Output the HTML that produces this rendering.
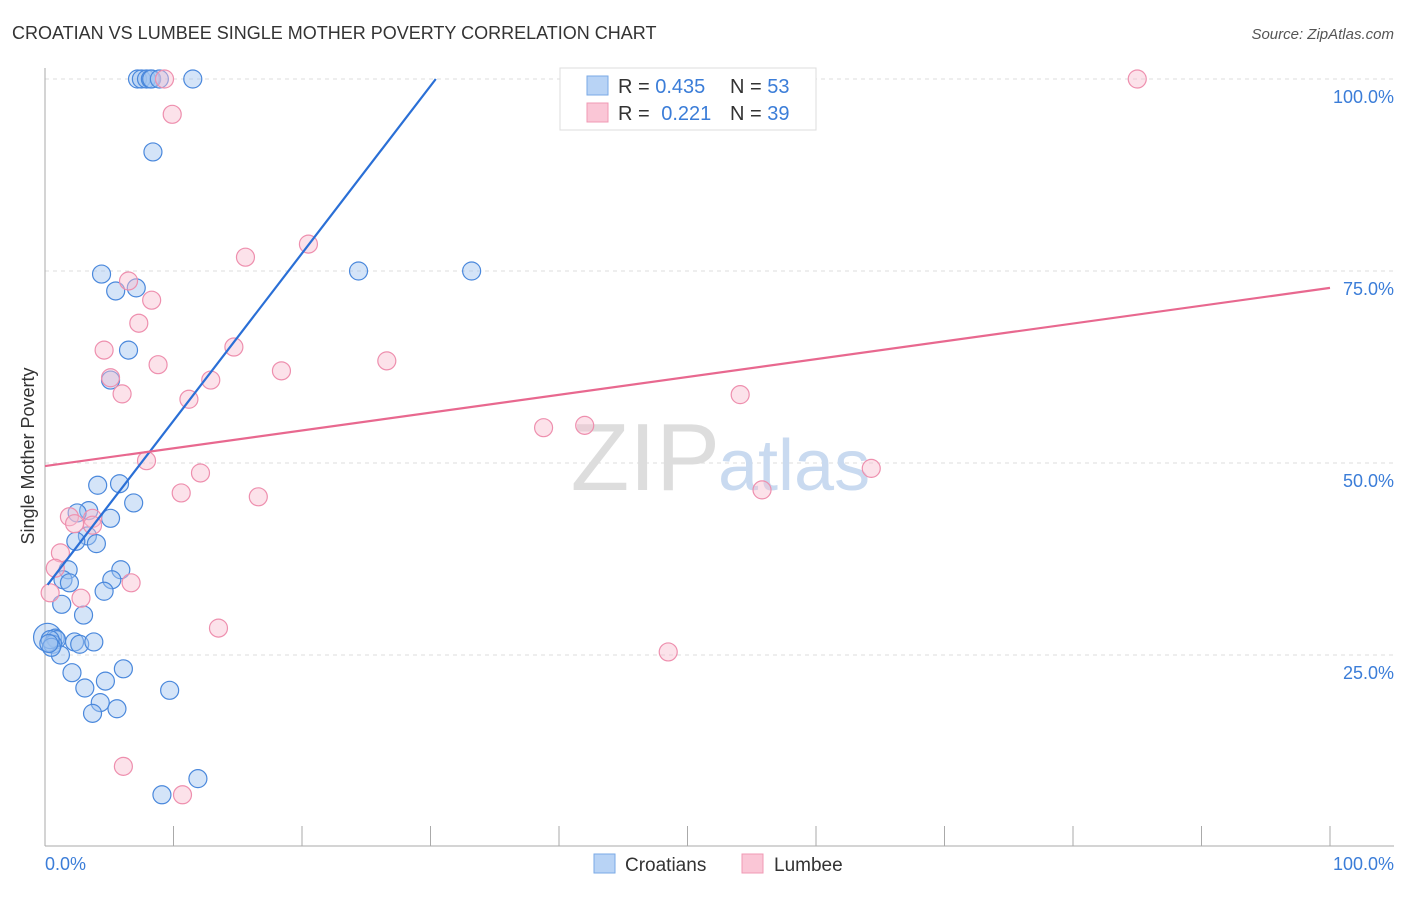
<!DOCTYPE html>
<html><head><meta charset="utf-8"><style>
body{margin:0;background:#fff;font-family:"Liberation Sans",sans-serif;}
svg text{font-family:"Liberation Sans",sans-serif;}
</style></head><body>
<svg id="chart" width="1406" height="892" viewBox="0 0 1406 892" xmlns="http://www.w3.org/2000/svg">
<text x="12" y="39" font-size="18" fill="#333">CROATIAN VS LUMBEE SINGLE MOTHER POVERTY CORRELATION CHART</text>
<text x="1394" y="39" font-size="15" fill="#555" font-style="italic" text-anchor="end">Source: ZipAtlas.com</text>
<g id="grid"></g>
<g id="axes"></g>
<text x="720" y="490" font-size="96" fill="#ddd" font-family="Liberation Serif" text-anchor="end">ZIP</text>
<text x="718" y="490" font-size="72" fill="#c9daf0">atlas</text>
<g id="pts"></g>
<g id="lines"></g>
<text transform="translate(34,456) rotate(-90)" font-size="18" fill="#333" text-anchor="middle">Single Mother Poverty</text>
<text x="45" y="870" font-size="18" fill="#3b7dd8">0.0%</text>
<text x="1394" y="870" font-size="18" fill="#3b7dd8" text-anchor="end">100.0%</text>
<g>
<rect x="560" y="68" width="256" height="62" fill="#fff" stroke="#ddd"/>
<rect x="587" y="76" width="21" height="19" fill="#b8d3f5" stroke="#7aaae6"/>
<rect x="587" y="103" width="21" height="19" fill="#fac6d6" stroke="#f09ab4"/>
<text x="618" y="93" font-size="20" fill="#333">R = <tspan fill="#3b7dd8">0.435</tspan></text>
<text x="730" y="93" font-size="20" fill="#333">N = <tspan fill="#3b7dd8">53</tspan></text>
<text x="618" y="120" font-size="20" fill="#333">R = <tspan fill="#3b7dd8" dx="6">0.221</tspan></text>
<text x="730" y="120" font-size="20" fill="#333">N = <tspan fill="#3b7dd8">39</tspan></text>
</g>
<g>
<rect x="594" y="854" width="21" height="19" fill="#b8d3f5" stroke="#7aaae6"/>
<text x="625" y="871" font-size="19" fill="#333">Croatians</text>
<rect x="742" y="854" width="21" height="19" fill="#fac6d6" stroke="#f09ab4"/>
<text x="774" y="871" font-size="19" fill="#333">Lumbee</text>
</g>
</svg>
<script>
const yTicks=[25,50,75,100];
const yTickLabels=["25.0%","50.0%","75.0%","100.0%"];
const xTicks=[0,10,20,30,40,50,60,70,80,90,100];
const blueX=[7.2,7.5,7.9,8.2,8.3,8.9,11.5,8.4,4.4,7.1,5.5,6.5,5.1,4.1,5.8,6.9,3.4,5.1,2.5,3.3,4.0,2.4,5.9,1.8,5.2,1.4,1.9,4.6,1.3,3.0,0.2,0.8,0.9,2.3,2.7,3.8,0.6,1.2,2.1,6.1,4.7,3.1,4.3,3.7,5.6,9.7,24.4,33.2,11.9,9.1,0.4,0.5,0.3];
const blueY=[100,100,100,100,100,100,100,90.5,74.6,72.8,72.4,64.7,60.8,47.1,47.3,44.8,43.8,42.8,43.5,40.5,39.5,39.8,36.1,36.1,34.8,34.8,34.4,33.3,31.6,30.2,27.3,27.2,27.0,26.7,26.4,26.7,26.4,25.0,22.7,23.2,21.6,20.7,18.8,17.4,18.0,20.4,75,75,8.9,6.8,27.0,26.0,26.5];
const pinkX=[9.3,85,9.9,20.5,15.6,6.5,8.3,7.3,4.6,14.7,8.8,26.6,18.4,12.9,5.1,6.0,11.2,54.1,38.8,42.0,7.9,64.3,12.1,10.6,16.6,55.8,1.9,3.7,2.3,3.7,1.2,0.8,6.7,2.8,0.4,13.5,48.5,6.1,10.7];
const pinkY=[100,100,95.4,78.5,76.8,73.7,71.2,68.2,64.7,65.1,62.8,63.3,62.0,60.8,61.1,59.0,58.3,58.9,54.6,54.9,50.3,49.3,48.7,46.1,45.6,46.5,43.0,42.8,42.1,41.9,38.3,36.3,34.4,32.4,33.1,28.5,25.4,10.5,6.8];
const blueTrend=[33.7,2.18];
const pinkTrend=[49.6,0.232];
const X=v=>45+v*12.85, Y=v=>847-v*7.68;
const NS="http://www.w3.org/2000/svg";
function mk(tag,attrs,parent){const e=document.createElementNS(NS,tag);for(const k in attrs)e.setAttribute(k,attrs[k]);parent.appendChild(e);return e;}
const grid=document.getElementById('grid'),axes=document.getElementById('axes'),pts=document.getElementById('pts'),lines=document.getElementById('lines');
yTicks.forEach((t,i)=>{
 const l=mk('line',{x1:45,x2:1394,y1:Y(t),y2:Y(t),stroke:'#ddd','stroke-dasharray':'4,4'},grid);
 
 
 const tx=mk('text',{x:1394,y:Y(t)+24,'font-size':18,fill:'#3b7dd8','text-anchor':'end'},axes);
 tx.textContent=yTickLabels[i];
 
 
});
const ya=mk('line',{x1:45,x2:45,y1:68,y2:846,stroke:'#aaa'},axes);


const xa=mk('line',{x1:45,x2:1394,y1:846,y2:846,stroke:'#aaa'},axes);


xTicks.forEach(t=>{
 const l=mk('line',{x1:X(t),x2:X(t),y1:826,y2:846,stroke:'#aaa'},axes);
 
 
});
blueX.forEach((v,i)=>{
 const c=mk('circle',{cx:X(v),cy:Y(blueY[i]),r:(i==30?14:9),fill:'rgba(160,196,240,0.45)',stroke:'#4a88dc','stroke-width':1.2},pts);
 
 
});
pinkX.forEach((v,i)=>{
 const c=mk('circle',{cx:X(v),cy:Y(pinkY[i]),r:9,fill:'rgba(248,190,208,0.45)',stroke:'#ee8fae','stroke-width':1.2},pts);
 
 
});
const bx2=(100-blueTrend[0])/blueTrend[1];
const bl=mk('line',{x1:X(0.2),y1:Y(blueTrend[0]+blueTrend[1]*0.2),x2:X(bx2),y2:Y(100),stroke:'#2a6fd6','stroke-width':2.2},lines);


const pl=mk('line',{x1:X(0),y1:Y(pinkTrend[0]),x2:X(100),y2:Y(pinkTrend[0]+pinkTrend[1]*100),stroke:'#e8688f','stroke-width':2.2},lines);


</script>
</body></html>
